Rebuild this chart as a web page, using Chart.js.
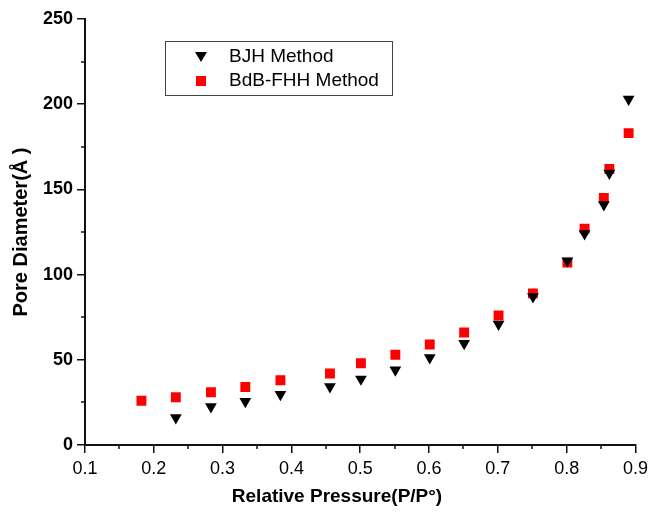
<!DOCTYPE html>
<html>
<head>
<meta charset="utf-8">
<script src="https://cdn.jsdelivr.net/npm/chart.js@4.4.1/dist/chart.umd.min.js"></script>
<style>
  html, body { margin: 0; padding: 0; background: #fff; }
  #wrap { width: 653px; height: 523px; }
</style>
</head>
<body>
<div id="wrap"><canvas id="scatter"></canvas></div>
<script>
// data
const pressureBJH = [0.232, 0.283, 0.333, 0.384, 0.456, 0.501, 0.551, 0.601, 0.651, 0.701, 0.751, 0.801, 0.826, 0.854, 0.862, 0.890];
const diameterBJH = [16, 22.5, 25.6, 29.7, 34.2, 38.7, 44, 51.2, 59.6, 70.9, 87, 108, 124, 141, 159.5, 203];
const pressureBdB = [0.182, 0.232, 0.283, 0.333, 0.384, 0.456, 0.501, 0.551, 0.601, 0.651, 0.701, 0.751, 0.801, 0.826, 0.854, 0.862, 0.890];
const diameterBdB = [26, 28, 31, 34, 38, 42, 48, 53, 59, 66, 76, 89, 107, 127, 145, 162, 183];
const seriesNames = ['BJH Method', 'BdB-FHH Method'];
const xTitle = 'Relative Pressure(P/P\u00B0)';
const yTitle = 'Pore Diameter(\u00C5 )';

const FONT = 'Liberation Sans, Arial, sans-serif';

function toPoints(xs, ys) {
  return xs.map((x, i) => ({ x: x, y: ys[i] }));
}

// minor ticks, axis titles and the boxed legend
const extras = {
  id: 'extras',
  afterDraw(chart) {
    const c = chart.ctx;
    const xs = chart.scales.x, ys = chart.scales.y;
    const area = chart.chartArea;
    c.save();
    c.strokeStyle = '#111';
    c.lineWidth = 1.5;
    for (let v = 0.15; v < 0.9; v += 0.1) {
      const px = Math.round(xs.getPixelForValue(v));
      c.beginPath(); c.moveTo(px, area.bottom); c.lineTo(px, area.bottom + 4); c.stroke();
    }
    for (let v = 25; v < 250; v += 50) {
      const py = Math.round(ys.getPixelForValue(v));
      c.beginPath(); c.moveTo(area.left, py); c.lineTo(area.left - 4, py); c.stroke();
    }

    c.fillStyle = '#000';
    c.font = 'bold 19px ' + FONT;
    c.textAlign = 'center';
    c.textBaseline = 'middle';
    c.fillText(xTitle, 337, 497);
    c.font = 'bold 20px ' + FONT;
    c.translate(21, (area.top + area.bottom) / 2);
    c.rotate(-Math.PI / 2);
    c.fillText(yTitle, 0, 0);
    c.restore();

    // legend
    c.save();
    c.strokeStyle = '#444';
    c.lineWidth = 1;
    c.strokeRect(165.5, 41.5, 227, 54);
    c.font = '19px ' + FONT;
    c.textBaseline = 'middle';
    c.textAlign = 'left';
    c.fillStyle = '#000';
    c.beginPath();
    c.moveTo(195, 52); c.lineTo(207, 52); c.lineTo(201, 62); c.closePath(); c.fill();
    c.fillText(seriesNames[0], 229, 57);
    c.fillStyle = '#ff0000';
    c.fillRect(196, 76, 10, 10);
    c.fillStyle = '#000';
    c.fillText(seriesNames[1], 229, 81);
    c.restore();
  }
};

const ctx = document.getElementById('scatter').getContext('2d');
const chart = new Chart(ctx, {
  type: 'scatter',
  data: {
    datasets: [
      {
        label: seriesNames[0],
        data: toPoints(pressureBJH, diameterBJH),
        pointStyle: 'triangle',
        rotation: 180,
        pointRadius: 6.8,
        backgroundColor: '#000',
        borderColor: '#000',
        borderWidth: 0
      },
      {
        label: seriesNames[1],
        data: toPoints(pressureBdB, diameterBdB),
        pointStyle: 'rect',
        pointRadius: 7,
        backgroundColor: '#ff0000',
        borderColor: '#ff0000',
        borderWidth: 0
      }
    ]
  },
  options: {
    responsive: true,
    maintainAspectRatio: false,
    animation: false,
    layout: { padding: { top: 19, right: 16, left: 0, bottom: 0 } },
    plugins: {
      legend: { display: false },
      tooltip: { enabled: false }
    },
    scales: {
      x: {
        type: 'linear',
        min: 0.1,
        max: 0.9,
        afterFit(scale) { scale.height = 78; },
        ticks: {
          stepSize: 0.1,
          color: '#000',
          padding: 5,
          font: { family: FONT, size: 18 },
          callback: v => v.toFixed(1)
        },
        grid: { drawOnChartArea: false, tickLength: 8, color: '#111', lineWidth: 1.5 },
        border: { color: '#111', width: 2 }
      },
      y: {
        min: 0,
        max: 250,
        afterFit(scale) { scale.width = 85; },
        ticks: {
          stepSize: 50,
          color: '#000',
          padding: 4,
          font: { family: FONT, size: 18, weight: 'bold' }
        },
        grid: { drawOnChartArea: false, tickLength: 8, color: '#111', lineWidth: 1.5 },
        border: { color: '#111', width: 2 }
      }
    }
  },
  plugins: [extras]
});
</script>
</body>
</html>
